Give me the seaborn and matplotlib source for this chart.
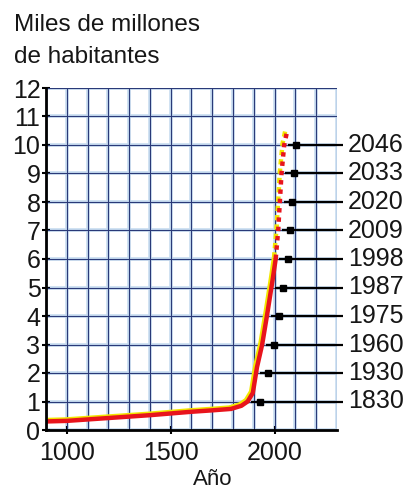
import numpy as np
import pandas as pd
import matplotlib
matplotlib.use("Agg")
import matplotlib.pyplot as plt
import matplotlib.transforms as mtransforms
import seaborn as sns

# ---- data ----
years_hist = [900, 1000, 1100, 1200, 1300, 1400, 1500, 1600, 1700, 1790, 1840,
              1870, 1895, 1915, 1940, 1965, 1990, 2005]
pop_hist = [0.30, 0.32, 0.37, 0.42, 0.47, 0.52, 0.58, 0.64, 0.69, 0.74, 0.85,
            1.0, 1.3, 2.2, 3.0, 4.1, 5.26, 6.0]
years_proj = [2005, 2017, 2025, 2033, 2046, 2059]
pop_proj = [6.0, 7.0, 8.0, 9.0, 10.0, 10.45]

milestone_levels = [1, 2, 3, 4, 5, 6, 7, 8, 9, 10]
milestone_years = ["1830", "1930", "1960", "1975", "1987", "1998", "2009",
                   "2020", "2033", "2046"]

x_ticks = [1000, 1500, 2000]
y_ticks = list(range(0, 13))

title_lines = ["Miles de millones", "de habitantes"]
x_label = "Año"

# ---- style ----
sns.set_theme(style="white")
plt.rcParams["font.family"] = ["Liberation Sans", "DejaVu Sans"]

RED = "#e8141c"
YELLOW = "#f2e600"
GRID_DARK = "#2a3a78"
GRID_LIGHT = "#c6dbf0"
TXT = "#161616"
FS = 18

fig = plt.figure(figsize=(4.1, 4.9), dpi=100)
ax = fig.add_axes([46 / 410, 1 - 430 / 490, 291 / 410, 342 / 490])

xmin, xmax = 900, 2300
ax.set_xlim(xmin, xmax)
ax.set_ylim(0, 12)

# grid: light halo + dark line
grid_x = np.arange(xmin, xmax + 1, 100)
ax.vlines(grid_x, 0, 12, color=GRID_LIGHT, lw=2.6, zorder=0)
ax.hlines(y_ticks, xmin, xmax, color=GRID_LIGHT, lw=2.6, zorder=0)
ax.vlines(grid_x, 0, 12, color=GRID_DARK, lw=0.8, zorder=1)
ax.hlines(y_ticks, xmin, xmax, color=GRID_DARK, lw=0.8, zorder=1)

df_hist = pd.DataFrame({"year": years_hist, "pop": pop_hist})
df_proj = pd.DataFrame({"year": years_proj, "pop": pop_proj})

off = mtransforms.offset_copy(ax.transData, fig=fig, x=-1.2, y=1.0, units="points")
# yellow misregistration edge
ax.plot(df_hist["year"], df_hist["pop"], color=YELLOW, lw=3.2, transform=off,
        zorder=3, solid_capstyle="butt")
ax.plot(df_proj["year"], df_proj["pop"], color=YELLOW, lw=3.2, transform=off,
        zorder=3, ls=(0, (1.2, 0.9)))
sns.lineplot(data=df_hist, x="year", y="pop", color=RED, lw=3.2, ax=ax,
             zorder=4, sort=False)
sns.lineplot(data=df_proj, x="year", y="pop", color=RED, lw=3.2, ax=ax,
             zorder=4, sort=False, linestyle=(0, (1.0, 1.1)))

# milestone pointers
curve_y = np.array(pop_hist + pop_proj[1:])
curve_x = np.array(years_hist + years_proj[1:])
for lvl, lab in zip(milestone_levels, milestone_years):
    cx = np.interp(lvl, curve_y, curve_x)
    x0 = cx + 18
    ax.plot([x0, 2330], [lvl, lvl], color="black", lw=1.6, zorder=5,
            clip_on=False, solid_capstyle="butt")
    ax.plot([x0 + 40], [lvl], marker="s", ms=5, color="black", zorder=6,
            clip_on=False)
    ax.text(2352, lvl, lab, fontsize=FS, va="center", ha="left",
            color=TXT, clip_on=False)

# axes styling
for s in ["top", "right"]:
    ax.spines[s].set_visible(False)
for s in ["left", "bottom"]:
    ax.spines[s].set_color("black")
    ax.spines[s].set_linewidth(2.0)
    ax.spines[s].set_zorder(7)

ax.set_xticks(x_ticks)
ax.set_xticklabels([str(t) for t in x_ticks], fontsize=FS, color=TXT)
ax.set_yticks(y_ticks)
ax.set_yticklabels([str(t) for t in y_ticks], fontsize=FS, color=TXT)
ax.tick_params(axis="y", direction="inout", length=6, width=1.5, pad=1,
               color="black", left=True)
ax.tick_params(axis="x", direction="inout", length=6, width=1.5, pad=5,
               color="black", bottom=True)
ax.set_xlabel("")
ax.set_ylabel("")
ax.grid(False)

fig.text(14 / 410, 1 - 31 / 490, title_lines[0], fontsize=17.5,
         va="baseline", ha="left", color=TXT)
fig.text(14 / 410, 1 - 63 / 490, title_lines[1], fontsize=17.5,
         va="baseline", ha="left", color=TXT)
fig.text(213 / 410, 1 - 485 / 490, x_label, fontsize=16,
         va="baseline", ha="center", color=TXT)

fig.savefig("out.png", dpi=100)
